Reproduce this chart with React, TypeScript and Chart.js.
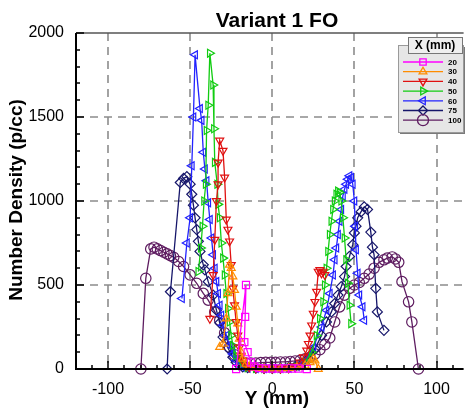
import React, { useEffect, useRef } from "react";
import { Chart, registerables } from "chart.js";

Chart.register(...registerables);

const CHART_TITLE = "Variant 1 FO";
const X_AXIS_TITLE = "Y (mm)";
const Y_AXIS_TITLE = "Number Density (p/cc)";
const LEGEND_TITLE = "X (mm)";

const X_MIN = -119.5;
const X_MAX = 116.5;
const Y_MIN = 0;
const Y_MAX = 2000;
const X_TICKS = [-100, -50, 0, 50, 100];
const Y_TICKS = [0, 500, 1000, 1500, 2000];
const X_MINOR_STEP = 10;
const Y_MINOR_STEP = 100;

const SERIES_LABELS = ["20", "30", "40", "50", "60", "75", "100"];

// X = 20 mm
const pos20 = [-22, -16, -16.5, -17, -15, -13, -11, -8, -4, 0, 4, 8, 12, 16, 21];
const val20 = [0, 500, 310, 160, 100, 40, 15, 5, 3, 3, 3, 3, 3, 3, 0];

// X = 30 mm
const pos30 = [-32, -30, -28, -27, -26, -25, -24, -23, -22, -21, -20, -19, -18, -16, -14, -10, -5, 0, 5, 10, 15, 20, 23, 25, 26, 28];
const val30 = [130, 150, 300, 450, 620, 600, 550, 470, 370, 270, 180, 100, 60, 30, 15, 5, 3, 3, 3, 5, 10, 20, 40, 60, 50, 0];

// X = 40 mm
const pos40 = [-38, -36, -35, -34, -33, -33, -32, -30, -29, -28, -27, -26, -25, -24, -23, -22, -21, -20, -19, -18, -16, -14, -10, -5, 0, 5, 10, 14, 17, 19, 21, 22, 23, 24, 25, 26, 27, 28, 29, 30, 31, 32];
const val40 = [300, 560, 770, 1000, 1100, 1230, 1360, 1300, 1140, 890, 830, 760, 620, 480, 380, 280, 200, 130, 80, 50, 20, 10, 5, 3, 3, 3, 5, 15, 40, 70, 110, 150, 200, 260, 330, 400, 460, 580, 590, 570, 580, 560];

// X = 50 mm
const pos50 = [-45, -43.5, -42.5, -41.5, -40.5, -40, -39, -38, -36, -35.5, -35, -33.5, -33, -32, -31, -30, -29, -28, -27, -26, -25, -24, -22, -20, -18, -15, -10, -5, 0, 5, 10, 15, 20, 24, 27, 29, 31, 32, 33, 34, 35, 36, 37, 38, 39, 40, 41, 42, 43, 44, 45, 46, 47, 48];
const val50 = [580, 720, 850, 1000, 1100, 1420, 1570, 1880, 1690, 1430, 1230, 1100, 980, 900, 750, 660, 560, 450, 360, 280, 200, 140, 80, 40, 20, 8, 3, 3, 3, 3, 5, 10, 40, 100, 200, 300, 400, 500, 600, 700, 800, 880, 950, 1000, 1040, 1060, 1050, 1000, 900, 780, 650, 510, 380, 270];

// X = 60 mm
const pos60 = [-55, -52, -50, -49, -48, -47, -44, -43, -42, -41, -40, -39, -38, -37, -36, -35, -34, -33, -32, -31, -30, -28, -26, -24, -22, -20, -18, -15, -10, -5, 0, 5, 10, 15, 20, 25, 30, 33, 35, 37, 38, 39, 40, 41, 42, 43, 44, 45, 46, 47, 48, 49, 50, 50.5, 51, 52, 53, 55, 56];
const val60 = [420, 750, 900, 1210, 1500, 1870, 1550, 1480, 1290, 1190, 1120, 990, 890, 780, 680, 600, 520, 450, 380, 320, 260, 200, 140, 90, 50, 25, 10, 5, 3, 3, 3, 3, 5, 15, 50, 130, 250, 350, 450, 560, 650, 720, 800, 880, 950, 1030, 1070, 1100, 1130, 1150, 1140, 1100, 1000, 850, 710, 570, 440, 370, 290];

// X = 75 mm
const pos75 = [-64, -62, -56, -54, -52, -50, -49, -48, -47, -46, -45, -44, -42, -41, -39, -36, -34, -32, -30, -27, -24, -22, -20, -18, -15, -10, -5, 0, 5, 10, 14, 18, 22, 26, 30, 33, 36, 38, 40, 42, 44, 45, 47, 49, 50, 51, 52, 54, 56, 58, 60, 61, 62, 63, 64, 68];
const val75 = [0, 460, 1110, 1135, 1145, 1100, 1040, 975, 900, 830, 760, 700, 620, 590, 520, 440, 350, 275, 190, 125, 70, 40, 22, 12, 8, 5, 3, 3, 5, 8, 15, 30, 60, 120, 200, 280, 340, 390, 440, 490, 550, 610, 670, 740, 810, 850, 900, 935, 965, 950, 815, 725, 680, 480, 340, 230];

// X = 100 mm
const pos100 = [-80, -77, -74, -72, -70, -68, -66, -64, -62, -60, -57, -54, -50, -46, -42, -39, -35, -32, -29, -26, -23, -19, -16, -13, -10, -7, -4, -1, 2, 5, 8, 11, 14, 17, 20, 23, 26, 29, 32, 35, 38, 41, 44, 47, 50, 53, 56, 59, 62, 65, 68, 70, 73, 75, 77, 79, 83, 85, 89];
const val100 = [0, 540, 715, 725, 715, 705, 695, 685, 675, 665, 640, 610, 560, 510, 450, 410, 340, 290, 215, 130, 85, 40, 35, 35, 35, 38, 40, 40, 40, 42, 42, 45, 48, 52, 60, 70, 90, 115, 145, 185, 280, 370, 440, 480, 500, 515, 540, 565, 600, 635, 650, 660, 667, 655, 635, 520, 400, 280, 0];

const SERIES_POS = [pos20, pos30, pos40, pos50, pos60, pos75, pos100];
const SERIES_VAL = [val20, val30, val40, val50, val60, val75, val100];

// styles
const COLORS = ["#ff00ff", "#ff8c00", "#e01010", "#11cc11", "#2222ff", "#16166a", "#5e1c60"];
const POINT_STYLES = ["rect", "triangle", "triangle", "triangle", "triangle", "rectRot", "circle"];
const POINT_ROT = [0, 0, 180, 90, 270, 0, 0];
const POINT_R = [5, 4.6, 4.6, 4.6, 4.6, 5, 5.2];

const FONT = "'Liberation Sans', Arial, sans-serif";

function drawMarker(ctx: CanvasRenderingContext2D, style: string, rot: number, x: number, y: number, r: number) {
  ctx.save();
  ctx.translate(x, y);
  ctx.rotate((rot * Math.PI) / 180);
  ctx.beginPath();
  if (style === "circle") {
    ctx.arc(0, 0, r, 0, Math.PI * 2);
  } else if (style === "rect") {
    const s = r * Math.SQRT1_2;
    ctx.rect(-s, -s, 2 * s, 2 * s);
  } else if (style === "rectRot") {
    ctx.moveTo(0, -r);
    ctx.lineTo(r, 0);
    ctx.lineTo(0, r);
    ctx.lineTo(-r, 0);
    ctx.closePath();
  } else {
    const side = (r * 3) / Math.sqrt(3);
    ctx.moveTo(0, -r);
    ctx.lineTo(side / 2, r / 2);
    ctx.lineTo(-side / 2, r / 2);
    ctx.closePath();
  }
  ctx.stroke();
  ctx.restore();
}

const decorPlugin = {
  id: "decor",
  beforeDatasetsDraw(chart: any) {
    const { ctx, chartArea: a, scales } = chart;
    const xs = scales.x;
    const ys = scales.y;
    ctx.save();
    ctx.strokeStyle = "#8c8c8c";
    ctx.lineWidth = 1.6;
    ctx.setLineDash([8, 6]);
    X_TICKS.forEach((v) => {
      const px = Math.round(xs.getPixelForValue(v));
      ctx.beginPath();
      ctx.moveTo(px, a.top);
      ctx.lineTo(px, a.bottom);
      ctx.stroke();
    });
    Y_TICKS.filter((v) => v > Y_MIN && v < Y_MAX).forEach((v) => {
      const py = Math.round(ys.getPixelForValue(v));
      ctx.beginPath();
      ctx.moveTo(a.left, py);
      ctx.lineTo(a.right, py);
      ctx.stroke();
    });
    ctx.restore();
  },
  afterDatasetsDraw(chart: any) {
    const { ctx, chartArea: a, scales } = chart;
    const xs = scales.x;
    const ys = scales.y;
    ctx.save();
    // top border
    ctx.strokeStyle = "#555";
    ctx.lineWidth = 1.5;
    ctx.beginPath();
    ctx.moveTo(a.left, a.top);
    ctx.lineTo(a.right, a.top);
    ctx.stroke();
    // axes
    ctx.strokeStyle = "#000";
    ctx.lineWidth = 2;
    ctx.beginPath();
    ctx.moveTo(a.left, a.top);
    ctx.lineTo(a.left, a.bottom);
    ctx.lineTo(a.right, a.bottom);
    ctx.stroke();
    // ticks
    ctx.lineWidth = 1.5;
    for (let v = Math.ceil(X_MIN / X_MINOR_STEP) * X_MINOR_STEP; v <= X_MAX; v += X_MINOR_STEP) {
      const major = X_TICKS.includes(v);
      const px = Math.round(xs.getPixelForValue(v));
      ctx.beginPath();
      ctx.moveTo(px, a.bottom);
      ctx.lineTo(px, a.bottom - (major ? 8 : 4));
      ctx.stroke();
    }
    for (let v = Y_MIN; v <= Y_MAX; v += Y_MINOR_STEP) {
      const major = Y_TICKS.includes(v);
      const py = Math.round(ys.getPixelForValue(v));
      ctx.beginPath();
      ctx.moveTo(a.left, py);
      ctx.lineTo(a.left + (major ? 8 : 4), py);
      ctx.stroke();
    }
    // titles
    ctx.fillStyle = "#000";
    ctx.textAlign = "center";
    ctx.textBaseline = "middle";
    ctx.font = `bold 21px ${FONT}`;
    ctx.fillText(CHART_TITLE, 277, 21);
    ctx.font = `bold 19px ${FONT}`;
    ctx.fillText(X_AXIS_TITLE, 277, 399);
    ctx.save();
    ctx.translate(17, 200);
    ctx.rotate(-Math.PI / 2);
    ctx.fillText(Y_AXIS_TITLE, 0, 0);
    ctx.restore();

    // legend
    const lx = 398, ly = 45, lw = 65, lh = 87;
    ctx.fillStyle = "#7a7a7a";
    ctx.fillRect(lx + 2, ly + 2, lw, lh);
    ctx.fillStyle = "#e6e6e6";
    ctx.fillRect(lx, ly, lw, lh);
    ctx.strokeStyle = "#9a9a9a";
    ctx.lineWidth = 1;
    ctx.strokeRect(lx + 0.5, ly + 0.5, lw, lh);
    // title box
    const tx = 408, ty = 37, tw = 54, th = 16;
    ctx.fillStyle = "#efefef";
    ctx.fillRect(tx, ty, tw, th);
    ctx.strokeStyle = "#777";
    ctx.strokeRect(tx + 0.5, ty + 0.5, tw, th);
    ctx.fillStyle = "#000";
    ctx.font = `bold 12px ${FONT}`;
    ctx.textAlign = "center";
    ctx.fillText(LEGEND_TITLE, tx + tw / 2, ty + th / 2 + 1);
    ctx.font = `bold 8px ${FONT}`;
    ctx.textAlign = "left";
    SERIES_LABELS.forEach((lab, i) => {
      const y = 62 + i * 9.7;
      ctx.strokeStyle = COLORS[i];
      ctx.lineWidth = 1.3;
      ctx.beginPath();
      ctx.moveTo(403, y);
      ctx.lineTo(443, y);
      ctx.stroke();
      drawMarker(ctx, POINT_STYLES[i], POINT_ROT[i], 423, y, i === 6 ? 5.5 : 4.5);
      ctx.fillStyle = "#000";
      ctx.fillText(lab, 448, y + 0.5);
    });
    ctx.restore();
  },
};

export default function App() {
  const ref = useRef<HTMLCanvasElement | null>(null);
  useEffect(() => {
    if (!ref.current) return;
    const datasets = SERIES_LABELS.map((lab, i) => ({
      label: lab,
      data: SERIES_POS[i].map((x, j) => ({ x, y: SERIES_VAL[i][j] })),
      showLine: true,
      borderColor: COLORS[i],
      backgroundColor: "rgba(0,0,0,0)",
      borderWidth: 1.3,
      pointStyle: POINT_STYLES[i],
      rotation: POINT_ROT[i],
      pointRadius: POINT_R[i],
      pointBorderWidth: 1.2,
      pointBorderColor: COLORS[i],
      pointBackgroundColor: "rgba(0,0,0,0)",
      clip: false,
    }));
    const chart = new Chart(ref.current, {
      type: "scatter",
      data: { datasets },
      options: {
        animation: false,
        responsive: false,
        devicePixelRatio: 1,
        layout: { padding: { top: 33, left: 0, right: 0, bottom: 0 } },
        plugins: {
          legend: { display: false },
          title: { display: false },
          tooltip: { enabled: false },
        },
        scales: {
          x: {
            type: "linear",
            min: X_MIN,
            max: X_MAX,
            grid: { display: false },
            border: { display: false },
            ticks: {
              color: "#000",
              font: { family: FONT, size: 16 },
              padding: 3,
              maxRotation: 0,
              autoSkip: false,
              callback: (v: any) => String(v),
            },
            afterBuildTicks: (s: any) => {
              s.ticks = X_TICKS.map((v) => ({ value: v }));
            },
            afterFit: (s: any) => {
              s.height = 42;
            },
          },
          y: {
            type: "linear",
            min: Y_MIN,
            max: Y_MAX,
            grid: { display: false },
            border: { display: false },
            ticks: {
              color: "#000",
              font: { family: FONT, size: 16 },
              padding: 4,
              autoSkip: false,
              callback: (v: any) => String(v),
            },
            afterBuildTicks: (s: any) => {
              s.ticks = Y_TICKS.map((v) => ({ value: v }));
            },
            afterFit: (s: any) => {
              s.width = 76;
            },
          },
        },
      } as any,
      plugins: [decorPlugin],
    });
    return () => chart.destroy();
  }, []);
  return (
    <div style={{ position: "absolute", left: 0, top: 0, width: 470, height: 411, background: "#fff" }}>
      <canvas ref={ref} width={470} height={411} />
    </div>
  );
}
